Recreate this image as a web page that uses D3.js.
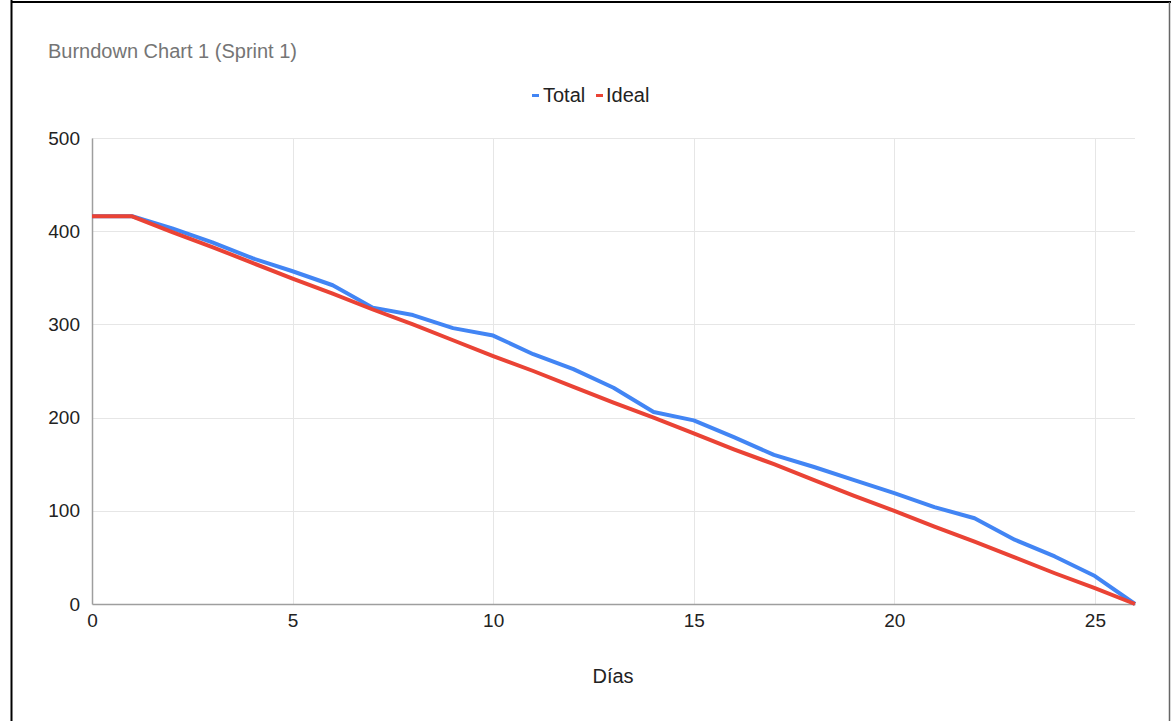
<!DOCTYPE html>
<html>
<head>
<meta charset="utf-8">
<script src="https://cdn.jsdelivr.net/npm/d3@7"></script>
<style>
  html, body { margin: 0; padding: 0; background: #fff; }
  svg { display: block; font-family: Arial, "Liberation Sans", sans-serif; }
</style>
</head>
<body>
<svg id="chart" width="1171" height="721"></svg>
<script>
const days = [0,1,2,3,4,5,6,7,8,9,10,11,12,13,14,15,16,17,18,19,20,21,22,23,24,25,26];
const totalValues = [416,416,403,388,371,357,342,318,310,296,288,268,252,232,206,197,179,160,147,133,119,104,92,69,51,30,0];
const idealValues = [416,416,399,383,366,349,333,316,300,283,266,250,233,216,200,183,166,150,133,116,100,83,67,50,33,17,0];
const xTicks = [0,5,10,15,20,25];
const yTicks = [0,100,200,300,400,500];
const seriesNames = ["Total","Ideal"];
const seriesColors = ["#4285F4","#EA4335"];

const svg = d3.select("#chart");
const FONT = "Arial, 'Liberation Sans', sans-serif";

// frame
svg.append("line").attr("x1",11.5).attr("x2",11.5).attr("y1",0).attr("y2",721).attr("stroke","#000").attr("stroke-width",2);
svg.append("line").attr("x1",11).attr("x2",1171).attr("y1",2).attr("y2",2).attr("stroke","#000").attr("stroke-width",2);
svg.append("line").attr("x1",1169.5).attr("x2",1169.5).attr("y1",2).attr("y2",721).attr("stroke","#666").attr("stroke-width",1.5);

const x = d3.scaleLinear().domain([0,26]).range([92,1135]);
const y = d3.scaleLinear().domain([0,500]).range([604,138]);

// gridlines
svg.append("g").selectAll("line").data(yTicks.filter(d=>d>0)).join("line")
  .attr("x1",92).attr("x2",1135)
  .attr("y1",d=>Math.round(y(d))+0.5).attr("y2",d=>Math.round(y(d))+0.5)
  .attr("stroke","#e6e6e6").attr("stroke-width",1);
svg.append("g").selectAll("line").data(xTicks.filter(d=>d>0)).join("line")
  .attr("x1",d=>Math.round(x(d))+0.5).attr("x2",d=>Math.round(x(d))+0.5)
  .attr("y1",138).attr("y2",604)
  .attr("stroke","#e6e6e6").attr("stroke-width",1);

// axes
const xAxis = d3.axisBottom(x).tickValues(xTicks).tickSize(0).tickPadding(10);
const gx = svg.append("g").attr("transform","translate(0,604)").call(xAxis);
gx.select(".domain").attr("stroke","#9e9e9e").attr("stroke-width",1.5);
gx.selectAll("text").attr("font-size",19).attr("fill","#222").attr("font-family",FONT);

const yAxis = d3.axisLeft(y).tickValues(yTicks).tickSize(0).tickPadding(12);
const gy = svg.append("g").attr("transform","translate(92,0)").call(yAxis);
gy.select(".domain").attr("stroke","#9e9e9e").attr("stroke-width",1.5);
gy.selectAll("text").attr("font-size",19).attr("fill","#222").attr("font-family",FONT);

// lines
const line = d3.line().x((d,i)=>x(days[i])).y(d=>y(d));
[totalValues, idealValues].forEach((vals,k)=>{
  svg.append("path").datum(vals)
    .attr("d", line)
    .attr("fill","none")
    .attr("stroke", seriesColors[k])
    .attr("stroke-width", 4)
    .attr("stroke-linejoin","round");
});

// title
svg.append("text").attr("x",48).attr("y",58).attr("font-size",20).attr("fill","#757575").attr("font-family",FONT).text("Burndown Chart 1 (Sprint 1)");

// legend
const leg = svg.append("g");
const legItems = [{x:532, tx:543},{x:596, tx:606}];
seriesNames.forEach((n,i)=>{
  leg.append("rect").attr("x",legItems[i].x).attr("y",94).attr("width",7).attr("height",3).attr("fill",seriesColors[i]);
  leg.append("text").attr("x",legItems[i].tx).attr("y",102).attr("font-size",20).attr("fill","#222").attr("font-family",FONT).text(n);
});

// x-axis title
svg.append("text").attr("x",613).attr("y",683).attr("text-anchor","middle").attr("font-size",20).attr("fill","#222").attr("font-family",FONT).text("Días");
</script>
</body>
</html>
